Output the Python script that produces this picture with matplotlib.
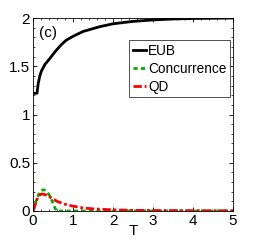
import matplotlib
matplotlib.use('Agg')
import matplotlib.pyplot as plt
from matplotlib.ticker import AutoMinorLocator

plt.rcParams['font.family'] = ['Liberation Sans', 'DejaVu Sans']

# values
T_eub = [0, 0.1, 0.13, 0.17, 0.21, 0.3, 0.42, 0.55, 0.7, 0.83, 1.0, 1.25, 1.5, 1.67, 2.0, 2.5, 3.0, 3.5, 4.0, 5.0]
eub = [1.22, 1.22, 1.32, 1.40, 1.45, 1.52, 1.58, 1.65, 1.72, 1.77, 1.81, 1.86, 1.89, 1.91, 1.94, 1.965, 1.98, 1.99, 1.995, 2.0]

T_con = [0, 0.05, 0.1, 0.15, 0.2, 0.25, 0.3, 0.35, 0.4, 0.45, 0.5, 0.55, 0.6, 0.7, 1.0, 2.0, 5.0]
con = [0, 0.06, 0.13, 0.18, 0.21, 0.22, 0.215, 0.2, 0.17, 0.13, 0.08, 0.03, 0.0, 0.0, 0.0, 0.0, 0.0]

T_qd = [0, 0.05, 0.1, 0.15, 0.2, 0.25, 0.3, 0.4, 0.5, 0.6, 0.8, 1.0, 1.25, 1.5, 2.0, 2.5, 3.0, 4.0, 5.0]
qd = [0, 0.06, 0.12, 0.16, 0.175, 0.175, 0.17, 0.15, 0.125, 0.1, 0.07, 0.05, 0.032, 0.022, 0.012, 0.007, 0.005, 0.003, 0.002]

fig = plt.figure(figsize=(2.58, 2.42), dpi=100)
ax = fig.add_axes([33/258, 1 - 211/242, 200/258, 193/242])

ax.plot(T_eub, eub, color='black', lw=2, label='EUB')
ax.plot(T_con, con, color='#00b000', lw=2, ls='--', dashes=(1.5, 1.2), label='Concurrence')
ax.plot(T_qd, qd, color='red', lw=2, ls='-.', dashes=(3, 1, 1, 1), label='QD')

ax.set_xlim(0, 5)
ax.set_ylim(0, 2)
ax.set_xticks([0, 1, 2, 3, 4, 5])
ax.set_yticks([0, 0.5, 1, 1.5, 2])
ax.set_yticklabels(['0', '0.5', '1', '1.5', '2'])
ax.xaxis.set_minor_locator(AutoMinorLocator(5))
ax.yaxis.set_minor_locator(AutoMinorLocator(5))
ax.tick_params(which='both', direction='in', top=True, right=True, labelsize=11, pad=2)
ax.tick_params(which='major', length=3, width=0.6)
ax.tick_params(which='minor', length=1.5, width=0.5)
for s in ax.spines.values():
    s.set_linewidth(0.6)
ax.set_xlabel('T', fontsize=11, labelpad=-3)
ax.text(0.03, 0.96, '(c)', transform=ax.transAxes, fontsize=11, va='top', ha='left')

leg = ax.legend(loc='upper right', bbox_to_anchor=(0.985, 0.885), fontsize=9.8, frameon=True,
                fancybox=False, edgecolor='black', handlelength=1.0, handletextpad=0.15,
                borderpad=0.25, labelspacing=0.3, borderaxespad=0)
leg.get_frame().set_linewidth(0.6)

fig.savefig('out.png', dpi=100)
